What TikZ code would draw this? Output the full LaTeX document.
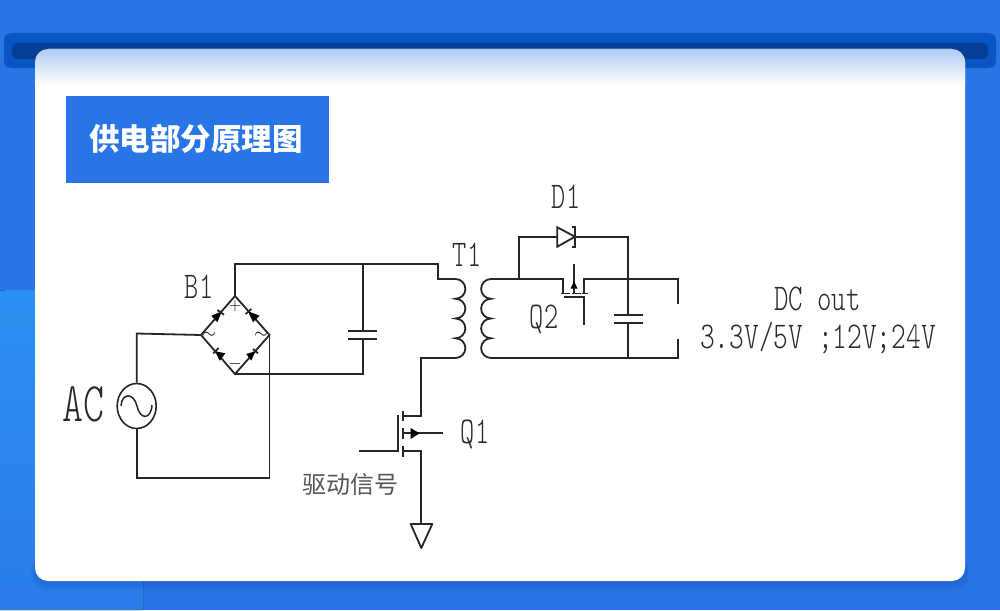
\documentclass[tikz,border=0pt]{standalone}
\usepackage{fontspec}
\setmonofont{Latin Modern Mono Light}
\newfontfamily\cjk{Noto Sans CJK SC}
\usetikzlibrary{shapes.geometric}
\definecolor{bgblue}{HTML}{2A75E6}
\definecolor{bgblueb}{HTML}{2A90F2}
\definecolor{bgbluec}{HTML}{2B7DEB}
\definecolor{barblue}{HTML}{0A55C2}
\definecolor{slotblue}{HTML}{053F95}
\definecolor{topfade}{HTML}{B0CBF4}
\definecolor{shadowblue}{HTML}{103F9A}
\definecolor{wirec}{HTML}{262626}
\definecolor{txt}{HTML}{2A2A2A}
\definecolor{gtxt}{HTML}{555555}
\tikzset{
  x=1pt,y=-1pt,
  rail/.style={draw=wirec,line width=2.2pt,line join=miter},
  wire/.style={draw=wirec,line width=1.8pt,line join=miter},
  lab/.style={inner sep=0pt,text=txt,font=\ttfamily},
  sign/.style={inner sep=0pt,text=black},
  tip/.style={fill=black,draw=none},
}
\newcommand{\stxt}[1]{\scalebox{1}[1.4]{\fontsize{27}{27}\selectfont #1}}
\begin{document}
\begin{tikzpicture}
\useasboundingbox (0,0) rectangle (1000,610);
% background
\fill[bgblue] (0,0) rectangle (1000,610);
\begin{scope}
\clip (0,0) rectangle (1000,610);
\fill[top color=bgblueb,bottom color=bgbluec] (-40,610) [rounded corners=50pt] -- (-40,290) -- (143,290) [sharp corners] -- (143,610) -- cycle;
\end{scope}
\fill[barblue,rounded corners=7pt] (4,33) rectangle (996,68);
\fill[slotblue,rounded corners=6pt] (12,43) rectangle (988,59);
% card shadow
\foreach \d in {1,2.5,4,5.5,7,8.5,10}{
  \fill[shadowblue,opacity=.045,rounded corners=14pt] (35-\d*.4,555) rectangle (965+\d*.4,581+\d);
}
% card
\fill[white,rounded corners=13pt] (35,49) rectangle (965,581);
\begin{scope}
\clip[rounded corners=13pt] (35,49) rectangle (965,200);
\fill[top color=topfade,bottom color=white] (35,49) rectangle (965,85);
\end{scope}
% title
\node[fill=bgblue,minimum width=263pt,minimum height=87pt,inner sep=0pt,anchor=north west] (title) at (66,96) {};
\node[inner sep=0pt,text=white,font=\cjk\bfseries\fontsize{30.5}{30.5}\selectfont] (titletext) at (196,139) {供电部分原理图};
% bridge corners
\coordinate (bt) at (235,296);
\coordinate (bl) at (201,335);
\coordinate (br) at (269.5,335);
\coordinate (bb) at (235,374);
% AC source
\node[draw=wirec,line width=1.6pt,ellipse,minimum width=39pt,minimum height=45pt,inner sep=0pt] (acs) at (136.7,406) {};
\draw[wirec,line width=1.5pt] (121,406) .. controls (122,392) and (134,393) .. (137,406) .. controls (140,420) and (151,420) .. (152,405);
\node[lab] (aclab) at (83,404) {\scalebox{1}[1.4]{\fontsize{40}{40}\selectfont AC}};
\coordinate (ac1) at (136.7,333.5);
\coordinate (ac2) at (136.7,478);
\coordinate (ac3) at (269.5,478);
\draw[wire] (acs.north) -- (ac1) -- (bl);
\draw[wire] (acs.south) -- (ac2) -- (ac3) -- (br);
% bridge
\draw[wire] (bt) -- (bl) -- (bb) -- (br) -- cycle;
\fill[tip] (222,311.3) -- (211.3,315.7) -- (217.3,322.3) -- cycle;
\draw[wire] (217.3,310) -- (224,314.7);
\fill[tip] (248,311.3) -- (259.7,315.7) -- (253,322.3) -- cycle;
\draw[wire] (251.3,309) -- (245.7,314);
\fill[tip] (215.3,351.3) -- (225.3,353.3) -- (219.7,360.7) -- cycle;
\draw[wire] (213.3,353.3) -- (218.7,348);
\fill[tip] (255.3,351.3) -- (246.3,354) -- (251.3,360.7) -- cycle;
\draw[wire] (253,349) -- (258,353.3);
% bridge signs
\node[sign] (plus) at (235,306) {\fontsize{18}{18}\selectfont $+$};
\node[sign] (minus) at (235,364) {\fontsize{18}{18}\selectfont $-$};
\node[sign] (til1) at (209,335) {\fontsize{16}{16}\selectfont $\sim$};
\node[sign] (til2) at (261,335) {\fontsize{16}{16}\selectfont $\sim$};
\node[lab] (b1) at (199,286.5) {\stxt{B1}};
% rails and input capacitor
\coordinate (railL) at (235,264);
\coordinate (capT) at (362.7,264);
\coordinate (capB) at (362.7,374);
\coordinate (t1) at (438,264);
\coordinate (t2) at (438,279);
\coordinate (capa) at (362.7,331);
\coordinate (capb) at (362.7,339.3);
\draw[rail] (bt) -- (railL) -- (t1) -- (t2) -- (455.5,279);
\draw[wire] (capT) -- (capa);
\draw[wire] (capb) -- (capB) -- (bb);
\draw[wire] (348.3,331) -- (377.3,331);
\draw[wire] (348.3,339.3) -- (377.3,339.3);
% primary winding
\draw[wire] (455.5,279) arc[start angle=90,end angle=-90,radius=9.875pt]
  arc[start angle=90,end angle=-90,radius=9.875pt]
  arc[start angle=90,end angle=-90,radius=9.875pt]
  arc[start angle=90,end angle=-90,radius=9.875pt] coordinate (pb);
% secondary winding
\draw[wire] (491,279) arc[start angle=90,end angle=270,radius=9.875pt]
  arc[start angle=90,end angle=270,radius=9.875pt]
  arc[start angle=90,end angle=270,radius=9.875pt]
  arc[start angle=90,end angle=270,radius=9.875pt] coordinate (sb);
\node[lab] (t1lab) at (467,255) {\stxt{T1}};
% Q1
\draw[wire] (pb) -- (421.3,358) -- (421.3,416) -- (403,416);
\draw[wire] (403,410.7) -- (403,420.7);
\draw[wire] (403,428) -- (403,439);
\draw[wire] (403,446) -- (403,457);
\draw[wire] (398.3,415) -- (398.3,451) -- (359,451);
\draw[wire] (403,451) -- (421.3,451) -- (421.3,524);
\draw[wire] (403,433.3) -- (442.7,433.3);
\fill[tip] (419.5,433.3) -- (410.7,428) -- (410.7,439) -- cycle;
\draw[wire,line join=round] (410.7,524) -- (432.3,524) -- (421.3,548) -- cycle;
\node[lab] (q1lab) at (475,434) {\stxt{Q1}};
\node[inner sep=0pt,text=gtxt,font=\cjk\fontsize{24}{24}\selectfont] (drv) at (350.5,484.5) {驱动信号};
% secondary, Q2
\coordinate (dj) at (519,279);
\coordinate (cj) at (628.3,279);
\draw[wire] (491,279) -- (563.3,279) -- (563.3,293);
\draw[wire] (584.3,293) -- (584.3,279) -- (677.7,279) -- (677.7,304);
\draw[wire] (677.7,339.3) -- (677.7,358) -- (sb);
\draw[wire] (561,293.5) -- (570,293.5);
\draw[wire] (572,293.5) -- (581,293.5);
\draw[wire] (582,293.5) -- (588,293.5);
\draw[wire] (564,297) -- (584.3,297) -- (584.3,325);
\draw[wire] (574,264.3) -- (574,293);
\fill[tip] (574,281.5) -- (570.5,288.5) -- (577.5,288.5) -- cycle;
\node[lab] (q2lab) at (544,319.5) {\stxt{Q2}};
% D1
\draw[rail] (dj) -- (519,236.7) -- (557.3,236.7);
\draw[wire,line join=miter] (557.3,227.3) -- (557.3,246.7) -- (575,236.7) -- cycle;
\draw[wire] (572,227.3) -- (575,227.3) -- (575,246.7) -- (572,246.7);
\draw[rail] (575,236.7) -- (628.3,236.7) -- (cj);
\node[lab] (d1lab) at (566,196.5) {\stxt{D1}};
% output capacitor
\draw[wire] (cj) -- (628.3,315);
\draw[wire] (628.3,322.7) -- (628.3,358);
\draw[wire] (614.3,315) -- (642.7,315);
\draw[wire] (614.3,322.7) -- (642.7,322.7);
% output text
\node[lab] (dclab) at (817.5,298.5) {\scalebox{1.02}[1.4]{\fontsize{27}{27}\selectfont DC out}};
\node[lab] (vlab) at (818,338) {\scalebox{1.04}[1.4]{\fontsize{27}{27}\selectfont 3.3V/5V ;12V;24V}};
\end{tikzpicture}
\end{document}
